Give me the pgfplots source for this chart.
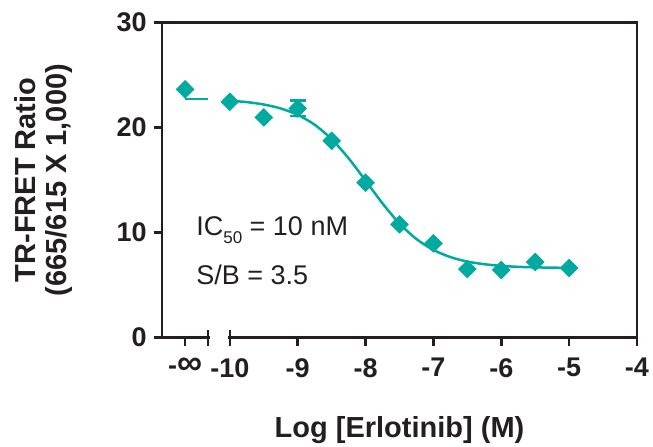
\documentclass[border=0pt]{standalone}
\usepackage{fontspec}
\setmainfont{Liberation Sans}
\usepackage{pgfplots}
\pgfplotsset{compat=1.18}
\definecolor{tealc}{RGB}{0,170,160}
\definecolor{axc}{RGB}{35,31,32}
\pgfplotstableread{
x y e
-10.66 23.64 0
-10 22.46 0
-9.5 20.97 0
-9 21.83 0.75
-8.5 18.74 0
-8 14.74 0
-7.5 10.77 0
-7 8.96 0
-6.5 6.51 0
-6 6.42 0
-5.5 7.18 0
-5 6.61 0
}\datatable
\begin{document}
\begin{tikzpicture}
\path[use as bounding box] (0,0) rectangle (326.5pt,223pt);
\begin{axis}[
  at={(81pt,54.35pt)}, anchor=south west,
  scale only axis, width=237.5pt, height=157.3pt,
  xmin=-11, xmax=-4, ymin=0, ymax=30,
  axis line style={line width=1.3pt, axc},
  every tick/.style={line width=1.3pt, axc},
  major tick length=4.2pt,
  tick align=outside,
  xtick pos=left, ytick pos=left,
  xtick={-10.66,-10,-9,-8,-7,-6,-5,-4},
  xticklabels={-\scalebox{1.3}{∞},-10,-9,-8,-7,-6,-5,-4},
  ytick={0,10,20,30},
  /pgf/number format/assume math mode=true,
  ticklabel style={font=\bfseries\fontsize{13.5}{15}\selectfont, text=axc},
  xticklabel style={yshift=-2.7pt},
  xlabel={Log [Erlotinib] (M)},
  xlabel style={at={(axis description cs:0.5,0)}, anchor=base, yshift=-49.85pt, font=\bfseries\fontsize{14.5}{16}\selectfont, text=axc},
  ylabel={TR-FRET Ratio\\(665/615 X 1,000)},
  ylabel style={at={([xshift=-59pt]axis description cs:0,0.5)}, anchor=center, align=center, font=\bfseries\fontsize{14.5}{15.5}\selectfont, text=axc},
  clip=false,
]
\addplot[tealc, line width=1.25pt, smooth, no marks] coordinates {
(-10,22.56) (-9.75,22.43) (-9.5,22.20) (-9.25,21.82) (-9,21.21) (-8.75,20.27)
(-8.5,18.89) (-8.25,17.07) (-8,14.94) (-7.75,12.77) (-7.5,10.85) (-7.25,9.37)
(-7,8.33) (-6.75,7.65) (-6.5,7.22) (-6.25,6.97) (-6,6.81) (-5.75,6.72)
(-5.5,6.67) (-5.25,6.64) (-5,6.62)};
\addplot[tealc, line width=1.25pt, no marks] coordinates {(-10.66,22.72) (-10.32,22.72)};
\addplot[tealc, only marks, mark=square*, mark size=3.1pt, mark options={rotate=45, tealc},
  error bars/.cd, y dir=both, y explicit,
  error bar style={line width=1.2pt, tealc},
  error mark options={line width=1.2pt, mark size=4pt, tealc, rotate=90}]
  table[x=x, y=y, y error=e] {\datatable};
\node[anchor=base west, inner sep=0, font=\fontsize{13.5}{16}\selectfont, text=axc] at (axis cs:-10.5,9.69) {IC\raisebox{-4pt}{\fontsize{8.5}{10}\selectfont 50} = 10 nM};
\node[anchor=base west, inner sep=0, font=\fontsize{13.5}{16}\selectfont, text=axc] at (axis cs:-10.5,5.05) {S/B = 3.5};
\coordinate (g1) at (axis cs:-10.32,0);
\coordinate (g2) at (axis cs:-10,0);
\end{axis}
\fill[white] ([xshift=0.7pt,yshift=-1pt]g1) rectangle ([xshift=-0.7pt,yshift=1pt]g2);
\draw[line width=1.3pt, axc] ([yshift=3.5pt]g1) -- ([yshift=-4.2pt]g1);
\draw[line width=1.3pt, axc] ([yshift=3.5pt]g2) -- (g2);
\end{tikzpicture}
\end{document}
